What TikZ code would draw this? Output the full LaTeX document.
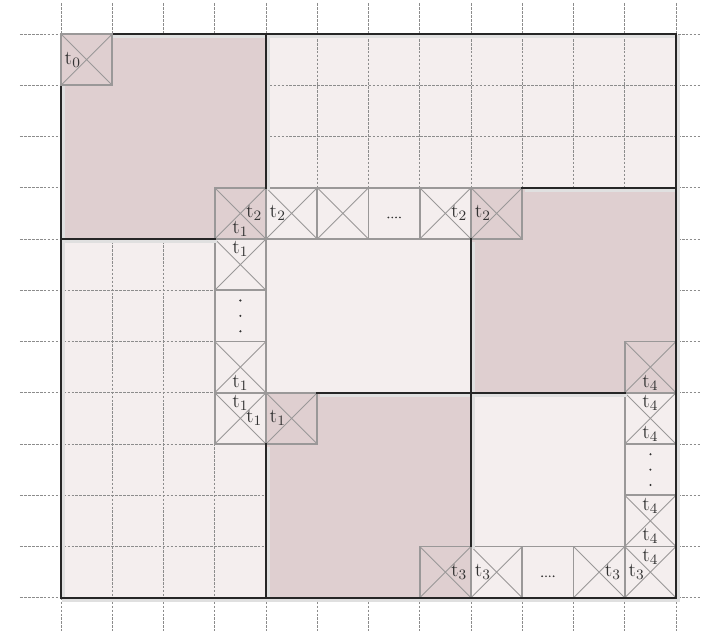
\documentclass[tikz,border=0pt]{standalone}
\usepackage{xcolor}
\definecolor{darkfill}{HTML}{DFCFD0}
\definecolor{lightfill}{HTML}{F4EEEE}
\definecolor{cellline}{HTML}{9A9898}
\definecolor{gridc}{HTML}{8C8C8C}
\definecolor{txt}{HTML}{333333}
\tikzset{
  gridline/.style={gridc, line width=0.5pt, dash pattern=on 1.5pt off 0.7pt},
  xcell/.style={draw=cellline, line width=0.9pt, minimum size=1cm, inner sep=0pt, outer sep=0pt, rectangle},
  diag/.style={cellline, line width=0.55pt},
  lbl/.style={font=\fontsize{11}{13}\selectfont, text=txt, inner sep=0pt},
  blockborder/.style={black!85, line width=1pt, line cap=rect},
  bshadow/.style={black!12, line width=2pt},
  dotmark/.style={fill=txt},
}
\newcommand\mkx[4]{%
  \node[xcell, fill=#4] (#1) at (#2+0.5,#3+0.5) {};
  \draw[diag] (#1.north west) -- (#1.south east) (#1.north east) -- (#1.south west);
}
\newcommand\mkbox[4]{%
  \node[xcell, fill=#4] (#1) at (#2+0.5,#3+0.5) {};
}
\newcommand\labL[2]{\node[lbl] at ([xshift=-0.27cm]#1.center) {t$_{#2}$};}
\newcommand\labR[2]{\node[lbl] at ([xshift=0.27cm]#1.center) {t$_{#2}$};}
\newcommand\labT[2]{\node[lbl] at ([yshift=0.3cm]#1.center) {t$_{#2}$};}
\newcommand\labB[2]{\node[lbl] at ([yshift=-0.3cm]#1.center) {t$_{#2}$};}
\newcommand\hdots[1]{%
  \foreach \k in {-1.5,-0.5,0.5,1.5} {\fill[dotmark] ([xshift=\k*0.075cm, yshift=-0.08cm]#1.center) circle (0.018cm);}
}
\newcommand\vdotsc[1]{%
  \foreach \k in {-1,0,1} {\fill[dotmark] ([yshift=\k*0.3cm]#1.center) circle (0.022cm);}
}
\begin{document}
\begin{tikzpicture}[y=-1cm]
\useasboundingbox (-1.19,-0.663) rectangle (12.585,11.844);
% base light fill
\fill[lightfill] (0,0) rectangle (12,11);
% grid
\foreach \i in {0,...,12} {\draw[gridline] (\i,-0.6) -- (\i,11.65);}
\foreach \j in {0,...,11} {\draw[gridline] (-0.8,\j) -- (12.47,\j);}
% blocks
\fill[darkfill] (0,0) rectangle (4,4);
\fill[darkfill] (8,3) rectangle (12,7);
\fill[darkfill] (4,7) rectangle (8,11);
\fill[lightfill] (4,4) rectangle (8,7);
\fill[lightfill] (8,7) rectangle (11,10);
% cells
\mkx{c33}{3}{3}{darkfill}
\mkx{c43}{4}{3}{lightfill}
\mkx{c53}{5}{3}{lightfill}
\mkbox{c63}{6}{3}{lightfill}
\mkx{c73}{7}{3}{lightfill}
\mkx{c83}{8}{3}{darkfill}
\mkx{c34}{3}{4}{lightfill}
\mkbox{c35}{3}{5}{lightfill}
\mkx{c36}{3}{6}{lightfill}
\mkx{c37}{3}{7}{lightfill}
\mkx{c47}{4}{7}{darkfill}
\mkx{c116}{11}{6}{darkfill}
\mkx{c117}{11}{7}{lightfill}
\mkbox{c118}{11}{8}{lightfill}
\mkx{c119}{11}{9}{lightfill}
\mkx{c1110}{11}{10}{lightfill}
\mkx{c710}{7}{10}{darkfill}
\mkx{c810}{8}{10}{lightfill}
\mkbox{c910}{9}{10}{lightfill}
\mkx{c1010}{10}{10}{lightfill}
% dots
\hdots{c63}
\hdots{c910}
\vdotsc{c35}
\vdotsc{c118}
% borders with faint shadows
\begin{scope}[shift={(0.05,0.05)}]
\draw[bshadow] (0,0) rectangle (12,11);
\draw[bshadow] (4,0) -- (4,3) (0,4) -- (3,4) (9,3) -- (12,3) (8,4) -- (8,10) (5,7) -- (11,7) (4,8) -- (4,11);
\end{scope}
\draw[blockborder] (0,0) rectangle (12,11);
\draw[blockborder] (4,0) -- (4,3) (0,4) -- (3,4) (9,3) -- (12,3) (8,4) -- (8,10) (5,7) -- (11,7) (4,8) -- (4,11);
% corner cell drawn over the border
\mkx{c00}{0}{0}{darkfill}
% labels
\labL{c00}{0}
\labR{c33}{2}\labB{c33}{1}
\labL{c43}{2}
\labR{c73}{2}
\labL{c83}{2}
\labT{c34}{1}
\labB{c36}{1}
\labT{c37}{1}\labR{c37}{1}
\labL{c47}{1}
\labB{c116}{4}
\labT{c117}{4}\labB{c117}{4}
\labT{c119}{4}\labB{c119}{4}
\labT{c1110}{4}\labL{c1110}{3}
\labR{c710}{3}
\labL{c810}{3}
\labR{c1010}{3}
\end{tikzpicture}
\end{document}
